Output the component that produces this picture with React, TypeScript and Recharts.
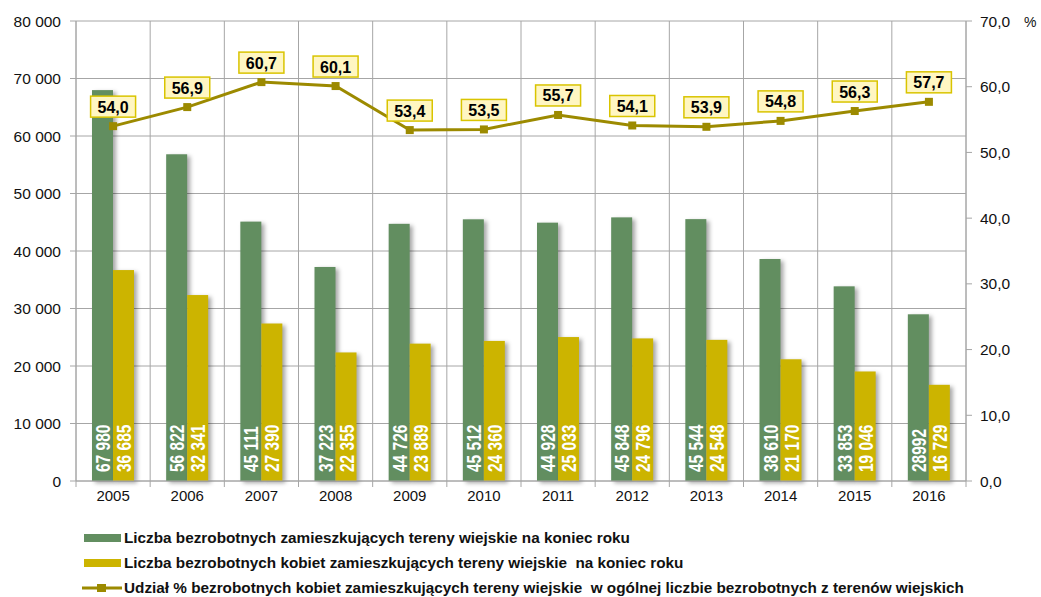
import React from 'react';
import { ComposedChart, Bar, Line, XAxis, YAxis, CartesianGrid, LabelList, Legend } from 'recharts';

const years = ['2005', '2006', '2007', '2008', '2009', '2010', '2011', '2012', '2013', '2014', '2015', '2016'];
const totalRural = [67980, 56822, 45111, 37223, 44726, 45512, 44928, 45848, 45544, 38610, 33853, 28992];
const womenRural = [36685, 32341, 27390, 22355, 23889, 24360, 25033, 24796, 24548, 21170, 19046, 16729];
const womenShare = [54.0, 56.9, 60.7, 60.1, 53.4, 53.5, 55.7, 54.1, 53.9, 54.8, 56.3, 57.7];
const totalLabels = ['67 980', '56 822', '45 111', '37 223', '44 726', '45 512', '44 928', '45 848', '45 544', '38 610', '33 853', '28992'];
const womenLabels = ['36 685', '32 341', '27 390', '22 355', '23 889', '24 360', '25 033', '24 796', '24 548', '21 170', '19 046', '16 729'];
const leftTicks = [0, 10000, 20000, 30000, 40000, 50000, 60000, 70000, 80000];
const rightTicks = [0, 10, 20, 30, 40, 50, 60, 70];

const legendNames = [
  'Liczba bezrobotnych zamieszkujących tereny wiejskie na koniec roku',
  'Liczba bezrobotnych kobiet zamieszkujących tereny wiejskie  na koniec roku',
  'Udział % bezrobotnych kobiet zamieszkujących tereny wiejskie  w ogólnej liczbie bezrobotnych z terenów wiejskich',
];

const GREEN = '#628E60';
const YELLOW = '#CCB400';
const OLIVE = '#9C8A00';
const GRID = '#A6A6A6';
const FONT = '"Liberation Sans", Arial, sans-serif';

const data = years.map((y, i) => ({
  year: y,
  total: totalRural[i],
  women: womenRural[i],
  share: womenShare[i],
  totalLabel: totalLabels[i],
  womenLabel: womenLabels[i],
}));

const fmtThousands = (v: number) => {
  const s = String(v);
  return s.length > 3 ? s.slice(0, s.length - 3) + ' ' + s.slice(-3) : s;
};
const fmtPct = (v: number) => v.toFixed(1).replace('.', ',');

const ShadowBar = (props: any) => {
  const { x, y, width, height, fill } = props;
  if (!height || height <= 0) return null;
  return (
    <rect
      x={x}
      y={y}
      width={width}
      height={height}
      fill={fill}
      style={{ filter: 'drop-shadow(3px 2px 2px rgba(0,0,0,0.35))' }}
    />
  );
};

const BarValueLabel = (props: any) => {
  const { x, y, width, height, value } = props;
  const cx = x + width / 2 + 7.5;
  const by = y + height - 9;
  return (
    <text
      x={0}
      y={0}
      transform={`translate(${cx} ${by}) rotate(-90) scale(1 1.33)`}
      fill="#FFFFFF"
      fontFamily={FONT}
      fontWeight="bold"
      fontSize={15.5}
      textAnchor="start"
    >
      {value}
    </text>
  );
};

const LineValueLabel = (props: any) => {
  const { x, y, value } = props;
  const w = 45;
  const h = 21;
  const bottom = y - 9;
  return (
    <g>
      <rect x={x - w / 2} y={bottom - h} width={w} height={h} fill="#FFF6C2" stroke="#D9C400" strokeWidth={1.5} />
      <text
        x={x}
        y={bottom - 4.5}
        textAnchor="middle"
        fontFamily={FONT}
        fontWeight="bold"
        fontSize={16}
        fill="#000"
      >
        {fmtPct(value)}
      </text>
    </g>
  );
};

const SquareDot = (props: any) => {
  const { cx, cy } = props;
  if (cx == null || cy == null) return null;
  return <rect x={cx - 4} y={cy - 4} width={8} height={8} fill={OLIVE} />;
};

const XTick = (props: any) => {
  const { x, y, payload, index } = props;
  const bw = 890 / 12;
  return (
    <g>
      <line x1={x - bw / 2} x2={x - bw / 2} y1={y} y2={y + 6} stroke={GRID} />
      {index === years.length - 1 && (
        <line x1={x + bw / 2} x2={x + bw / 2} y1={y} y2={y + 6} stroke={GRID} />
      )}
      <text x={x} y={y + 20} textAnchor="middle" fontFamily={FONT} fontSize={15} fill="#111">
        {payload.value}
      </text>
    </g>
  );
};

const LegendContent = () => (
  <div style={{ fontFamily: FONT, fontWeight: 'bold', fontSize: 15.3, color: '#111' }}>
    {legendNames.map((name, i) => (
      <div key={i} style={{ display: 'flex', alignItems: 'center', height: 25, whiteSpace: 'pre' }}>
        <svg width={40} height={12} style={{ marginRight: 2 }}>
          {i === 0 && <rect x={2} y={2} width={37} height={8} fill={GREEN} />}
          {i === 1 && <rect x={2} y={2} width={37} height={8} fill={YELLOW} />}
          {i === 2 && (
            <g>
              <line x1={0} x2={40} y1={6} y2={6} stroke={OLIVE} strokeWidth={3} />
              <rect x={15} y={2} width={9} height={8} fill={OLIVE} />
            </g>
          )}
        </svg>
        <span>{name}</span>
      </div>
    ))}
  </div>
);

export default function App() {
  return (
    <div style={{ position: 'absolute', left: 0, top: 0, width: 1041, height: 597, background: '#fff' }}>
      <ComposedChart
        width={1041}
        height={597}
        data={data}
        margin={{ top: 21, right: 0, bottom: 86, left: 0 }}
        barGap={0}
      >
        <CartesianGrid
          stroke={GRID}
          strokeWidth={1}
          yAxisId="left"
          horizontalValues={leftTicks}
          verticalCoordinatesGenerator={({ offset }: any) =>
            Array.from({ length: 13 }, (_, i) => offset.left + (i * offset.width) / 12)
          }
        />
        <XAxis
          dataKey="year"
          height={30}
          tickSize={0}
          tickMargin={0}
          tickLine={false}
          axisLine={{ stroke: GRID }}
          tick={<XTick />}
          interval={0}
        />
        <YAxis
          yAxisId="left"
          width={76}
          domain={[0, 80000]}
          ticks={leftTicks}
          interval={0}
          tickFormatter={fmtThousands}
          axisLine={{ stroke: GRID }}
          tickLine={{ stroke: GRID }}
          tickSize={6}
          tickMargin={9}
          tick={{ fontFamily: FONT, fontSize: 15.5, fill: '#111' }}
        />
        <YAxis
          yAxisId="right"
          orientation="right"
          width={75}
          domain={[0, 70]}
          ticks={rightTicks}
          interval={0}
          tickFormatter={fmtPct}
          axisLine={{ stroke: GRID }}
          tickLine={{ stroke: GRID }}
          tickSize={6}
          tickMargin={8}
          tick={{ fontFamily: FONT, fontSize: 15.5, fill: '#111' }}
          label={{
            content: ({ viewBox }: any) => (
              <text x={viewBox.x + 58} y={viewBox.y + 6} fontFamily={FONT} fontSize={14} fill="#111">
                %
              </text>
            ),
          }}
        />
        <Bar yAxisId="left" dataKey="total" fill={GREEN} barSize={21} shape={<ShadowBar />} isAnimationActive={false}>
          <LabelList dataKey="totalLabel" content={<BarValueLabel />} />
        </Bar>
        <Bar yAxisId="left" dataKey="women" fill={YELLOW} barSize={21} shape={<ShadowBar />} isAnimationActive={false}>
          <LabelList dataKey="womenLabel" content={<BarValueLabel />} />
        </Bar>
        <Line
          yAxisId="right"
          dataKey="share"
          stroke={OLIVE}
          strokeWidth={3}
          dot={<SquareDot />}
          activeDot={false}
          isAnimationActive={false}
        >
          <LabelList dataKey="share" content={<LineValueLabel />} />
        </Line>
        <Legend
          layout="vertical"
          align="center"
          verticalAlign="middle"
          content={<LegendContent />}
          wrapperStyle={{ position: 'absolute', left: 82, top: 525, width: 958, height: 75 }}
        />
      </ComposedChart>
    </div>
  );
}
